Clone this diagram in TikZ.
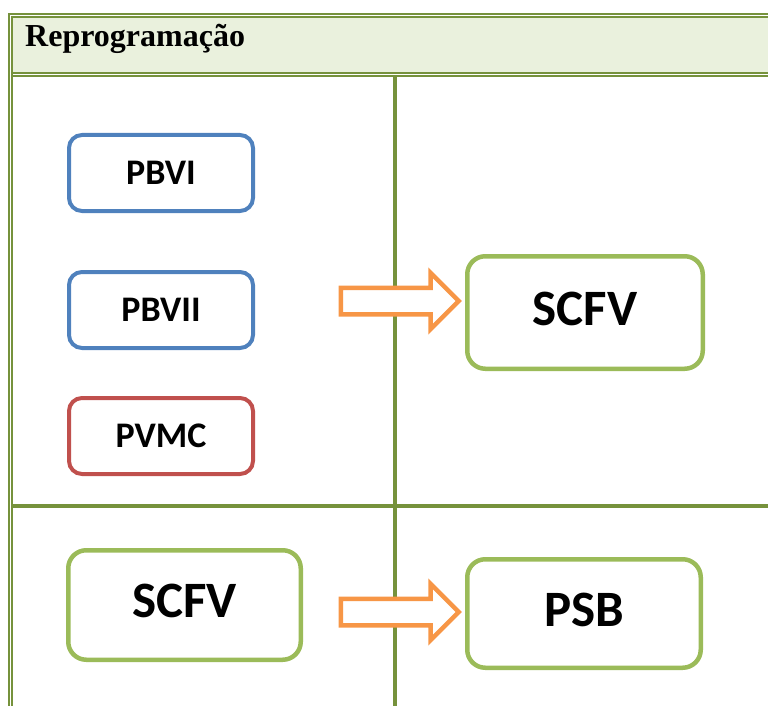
\documentclass[tikz,border=0pt]{standalone}
\usepackage{fontspec}
\setmainfont{Liberation Serif}
\newfontfamily\boxfont{Carlito}
\usetikzlibrary{shapes.arrows}
\definecolor{tablegreen}{HTML}{76923C}
\definecolor{headfill}{HTML}{EAF1DD}
\definecolor{boxblue}{HTML}{4F81BD}
\definecolor{boxred}{HTML}{C0504D}
\definecolor{boxgreen}{HTML}{9BBB59}
\definecolor{arroworange}{HTML}{F79646}
\tikzset{
  tableline/.style={draw=tablegreen, line width=#1},
  smallbox/.style={draw, line width=4pt, rounded corners=13pt, minimum width=184pt, minimum height=76pt, inner sep=0pt, font=\boxfont\bfseries\fontsize{36}{36}\selectfont},
  bigbox/.style={draw=boxgreen, line width=4.5pt, rounded corners=18pt, inner sep=0pt, text depth=8pt, font=\boxfont\bfseries\fontsize{51}{51}\selectfont},
  blockarrow/.style={single arrow, draw=arroworange, fill=white, line width=4.5pt, minimum height=118pt, single arrow head extend=15pt, inner xsep=0pt, inner ysep=11pt, anchor=tail},
}

\begin{document}
\begin{tikzpicture}[x=1pt, y=-1pt]
			%%%%% START %%%%%
			\useasboundingbox (0,0) rectangle (768,706);
			
			% header row
			\fill[headfill] (12,17) rectangle (768,72);
			\draw[tableline=2pt] (8,14.3) -- (768,14.3);
			\draw[tableline=1.6pt] (11.4,16.8) -- (768,16.8);
			\draw[tableline=2pt] (11.4,72.7) -- (768,72.7);
			\draw[tableline=2pt] (11.4,76) -- (768,76);
			\draw[tableline=2pt] (9,13.3) -- (9,706);
			\draw[tableline=1.7pt] (12.2,16) -- (12.2,706);
			\node[anchor=base west, inner sep=0pt, font=\bfseries\fontsize{32}{32}\selectfont] (title) at (25,47) {Reprogramação};
			
			% cells
			\draw[tableline=3.5pt] (395,77) -- (395,706);
			\draw[tableline=3.5pt] (13,506) -- (768,506);
			
			% first row
			\node[smallbox, draw=boxblue] (pbvi) at (161,173) {PBVI};
			\node[smallbox, draw=boxblue] (pbvii) at (161,310) {PBVII};
			\node[smallbox, draw=boxred] (pvmc) at (161,436) {PVMC};
			\node[blockarrow] (arrowtop) at (338.5,301) {};
			\node[bigbox, minimum width=235.5pt, minimum height=112.5pt] (scfvtop) at (585,312.5) {SCFV};
			
			% second row
			\node[bigbox, minimum width=232.5pt, minimum height=109.5pt] (scfvbot) at (184.5,605) {SCFV};
			\node[blockarrow] (arrowbot) at (338.5,612) {};
			\node[bigbox, minimum width=233.5pt, minimum height=108.5pt] (psb) at (584,613.5) {PSB};
			
			%%%%% END %%%%%
\end{tikzpicture}
\end{document}
